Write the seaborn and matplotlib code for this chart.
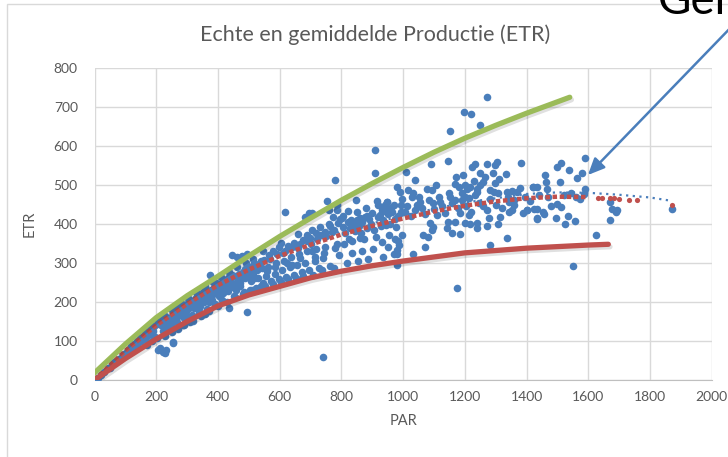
import numpy as np
import matplotlib
matplotlib.use("Agg")
import matplotlib.pyplot as plt
import matplotlib.patheffects as pe
from matplotlib.patches import Rectangle
import seaborn as sns

# gemeten punten (PAR, ETR) - band 0..1000
band = [
    (0, 0), (5, 3), (12, 6), (20, 12), (31, 20), (44, 30), (58, 40), (73, 50), (88, 60), (101, 70),
    (112, 72), (121, 80), (133, 88), (141, 95), (152, 100), (163, 105), (171, 112), (182, 118), (191, 125),
    (196, 110), (170, 90), (186, 100), (201, 108), (207, 77), (212, 158), (223, 73), (229, 70), (232, 77),
    (255, 96), (255, 98), (212, 81), (215, 140), (226, 145), (236, 150), (244, 128),
    (248, 140), (252, 160), (258, 175), (263, 186), (267, 150), (271, 165), (276, 181), (282, 195),
    (287, 140), (291, 160), (295, 176), (302, 190), (307, 206), (311, 150), (316, 166), (322, 185),
    (327, 200), (333, 216), (338, 175), (343, 190), (349, 210), (353, 226), (358, 170), (366, 182),
    (371, 200), (374, 269), (378, 215), (386, 236), (391, 195), (395, 250), (402, 215), (408, 235),
    (412, 205), (418, 222), (426, 240), (431, 261), (436, 185), (445, 250), (447, 270), (452, 215),
    (458, 230), (445, 320), (461, 316), (466, 255), (472, 240), (477, 318), (483, 225), (488, 285),
    (493, 175), (493, 323), (503, 232), (508, 255), (512, 275), (518, 300), (524, 236), (529, 261),
    (533, 287), (541, 306), (547, 250), (551, 242), (556, 266), (563, 291), (568, 311), (572, 255),
    (577, 246), (584, 272), (589, 300), (593, 322), (597, 260), (604, 251), (609, 281), (613, 306),
    (617, 331), (621, 265), (628, 258), (632, 291), (636, 316), (641, 340), (647, 270), (652, 262),
    (655, 296), (662, 322), (667, 350), (672, 277), (676, 266), (682, 301), (682, 417), (687, 330),
    (691, 356), (696, 282), (696, 427), (704, 429), (698, 365), (708, 270), (713, 306), (717, 336),
    (722, 361), (727, 288), (733, 372), (736, 281), (742, 312), (746, 341), (751, 370), (755, 460),
    (761, 436), (764, 292), (768, 380), (772, 417), (777, 287), (785, 449), (787, 436), (791, 321),
    (796, 412), (801, 415), (806, 420), (808, 350), (813, 376), (818, 301), (822, 433), (828, 390),
    (833, 326), (836, 356), (843, 382), (848, 462), (850, 432), (853, 306), (858, 395), (861, 415),
    (868, 332), (873, 361), (877, 419), (883, 391), (887, 311), (891, 412), (896, 400), (903, 336),
    (909, 590), (909, 532), (912, 366), (915, 460), (920, 449), (925, 423), (928, 396), (931, 355),
    (934, 316), (936, 410), (942, 444), (947, 457), (951, 341), (955, 371), (958, 401), (964, 430),
    (969, 322), (974, 361), (978, 392), (980, 333), (980, 323), (980, 295), (982, 357), (985, 421),
    (988, 347), (990, 481), (994, 430), (996, 372), (998, 463),
    (742, 60), (780, 513), (617, 432), (547, 330), (603, 352), (658, 375), (705, 385), (760, 400),
    (830, 410), (880, 440), (940, 433), (970, 450), (715, 316), (860, 365), (780, 338), (640, 295),
    (560, 280), (520, 262), (470, 250), (420, 228), (380, 205), (340, 185), (300, 165),
]

# extra punten in het dichte deel 50..1000
dense = [
    (50, 32), (62, 45), (80, 55), (95, 66), (108, 78), (118, 86), (128, 92), (138, 100), (148, 108),
    (158, 114), (166, 120), (176, 126), (184, 132), (194, 138), (204, 144), (214, 150), (222, 126),
    (231, 138), (240, 160), (247, 148), (256, 166), (262, 158), (270, 175), (278, 168), (285, 185),
    (292, 178), (299, 196), (305, 184), (313, 200), (319, 192), (326, 208), (331, 196), (339, 214),
    (346, 205), (351, 220), (356, 200), (362, 224), (368, 212), (376, 230), (383, 220), (389, 240),
    (397, 228), (404, 246), (410, 232), (416, 252), (423, 240), (429, 256), (434, 228), (441, 262),
    (449, 238), (455, 266), (463, 248), (469, 272), (475, 258), (481, 276), (487, 262), (496, 282),
    (501, 268), (507, 290), (514, 276), (521, 296), (527, 282), (536, 300), (543, 288), (549, 308),
    (230, 112), (250, 122), (270, 130), (290, 140), (318, 152), (345, 165), (372, 176), (400, 190),
    (428, 200), (455, 212), (482, 220), (510, 230), (538, 240),
    (160, 128), (180, 140), (205, 152), (228, 165), (252, 180), (277, 196), (303, 210), (330, 226),
    (357, 240), (385, 252), (410, 264), (437, 276), (463, 290), (490, 300), (515, 310),
    (565, 320), (580, 332), (598, 340), (612, 326), (626, 344), (645, 352), (660, 338), (675, 360),
    (690, 372), (702, 348), (718, 378), (732, 392), (748, 380), (762, 396), (776, 384), (790, 402),
    (805, 392), (820, 406), (838, 398), (852, 410), (866, 404), (884, 420), (898, 428), (918, 418),
    (932, 436), (950, 426), (962, 442), (975, 412), (992, 448),
    (585, 290), (625, 300), (665, 312), (705, 330), (745, 326), (785, 350), (825, 362), (865, 378),
    (905, 384), (945, 398),
]

# gemeten punten (PAR, ETR) - rechts, 1000..1900
right = [
    (1010, 534), (1039, 513), (1107, 500), (981, 496), (1077, 490), (1093, 487), (1169, 502),
    (1180, 496), (1260, 508), (1250, 500), (1298, 504), (1217, 496), (1206, 490), (1017, 487),
    (1033, 479), (1028, 470), (947, 457), (942, 449), (1055, 457), (1044, 449), (1098, 453),
    (1120, 457), (1152, 470), (1169, 462), (1190, 479), (1201, 470), (1212, 466), (1239, 483),
    (1233, 474), (1282, 487), (1293, 483), (1309, 479), (1336, 481), (1352, 485), (1369, 483),
    (1422, 496), (1433, 496), (1358, 462), (1342, 457), (1401, 436),
    (1233, 553), (1223, 547), (1271, 553), (1298, 551), (1304, 560), (1334, 527), (1250, 530),
    (1172, 521), (1195, 526), (1090, 553), (1144, 562), (1381, 556),
    (1273, 726), (1198, 688), (1219, 683), (1250, 654), (1152, 638),
    (1066, 372), (1082, 367), (1071, 342), (1033, 323), (1142, 389), (1158, 376), (1185, 374),
    (1147, 406), (1169, 406), (1212, 423), (1239, 402), (1239, 389), (1271, 436), (1277, 415),
    (1271, 395), (1314, 419), (1309, 400), (1336, 363), (1280, 346), (1342, 432), (1352, 436),
    (1390, 427), (1401, 436), (1433, 438), (1433, 415), (1201, 403), (1217, 400), (1185, 427),
    (1109, 423), (1098, 393), (1088, 402), (1093, 385), (1176, 235),
    (1005, 430), (1012, 445), (1025, 420), (1040, 435), (1050, 470), (1060, 440), (1070, 425),
    (1085, 462), (1100, 438), (1115, 470), (1125, 445), (1135, 428), (1150, 480), (1160, 455),
    (1178, 440), (1190, 462), (1205, 445), (1220, 430), (1245, 455), (1260, 445), (1280, 465),
    (1300, 450), (1320, 440), (1340, 470), (1360, 450), (1380, 492), (1395, 470), (1410, 458),
    (1440, 475), (1470, 470), (1480, 445), (1520, 475), (1545, 480), (1560, 470), (1585, 478),
    (1200, 500), (1230, 510), (1265, 520), (1290, 530), (1310, 515), (1240, 490),
    (1590, 568), (1511, 556), (1498, 545), (1536, 538), (1579, 530), (1563, 519), (1460, 526),
    (1463, 508), (1507, 508), (1420, 496), (1466, 491), (1588, 491), (1574, 464), (1669, 457),
    (1500, 451), (1511, 443), (1425, 438), (1453, 432), (1457, 426), (1676, 438), (1693, 436),
    (1690, 431), (1871, 438), (1533, 420), (1435, 413), (1495, 415), (1558, 408), (1525, 400),
    (1669, 410), (1552, 292), (1626, 372),
]

par_pts = [p for p, e in band + dense + right]
etr_pts = [e for p, e in band + dense + right]

# bovengrens (groen) en ondergrens (rood)
par_upper = [0, 100, 200, 300, 400, 500, 600, 700, 800, 900, 1000, 1100, 1200, 1300, 1400, 1540]
etr_upper = [18, 92, 160, 216, 266, 318, 368, 415, 461, 504, 545, 584, 620, 653, 684, 725]
par_lower = [0, 100, 200, 300, 400, 500, 600, 700, 800, 900, 1000, 1200, 1400, 1600, 1665]
etr_lower = [0, 55, 105, 150, 190, 218, 240, 262, 279, 293, 305, 326, 338, 346, 348]

# gemiddelde productie (rood gestippeld) en trendlijn (blauw gestippeld)
par_mean = [0, 100, 200, 300, 400, 500, 600, 700, 800, 900, 1000, 1100, 1200, 1300, 1400, 1500, 1600]
etr_mean = [0, 75, 140, 195, 243, 283, 318, 347, 373, 395, 414, 432, 447, 458, 466, 470, 469]
par_mean_dots = [1630, 1645, 1672, 1684, 1700, 1733, 1758, 1871]
etr_mean_dots = [467, 467, 466, 466, 465, 462, 461, 449]
par_trend = [0, 200, 400, 600, 800, 1000, 1200, 1400, 1500, 1600, 1700, 1800, 1865]
etr_trend = [0, 142, 247, 324, 381, 422, 455, 477, 481, 480, 475, 468, 460]

blue = "#4a7ebb"
red = "#c0504d"
green = "#9bbb59"
grey_txt = "#595959"

sns.set_style("white")
plt.rcParams['font.family'] = ['Lato', 'DejaVu Sans']

fig = plt.figure(figsize=(7.28, 4.57), dpi=100)
ax = fig.add_axes([94.5 / 728, 1 - 380 / 457, (711.7 - 94.5) / 728, (380 - 68) / 457])

sns.scatterplot(x=par_pts, y=etr_pts, ax=ax, color=blue, s=30, linewidth=0, zorder=3)
sns.lineplot(x=par_trend, y=etr_trend, ax=ax, color=blue, lw=1.6, linestyle=(0, (1, 2)),
             sort=False, zorder=4)
sns.lineplot(x=par_mean, y=etr_mean, ax=ax, color=red, lw=3.2, linestyle=(0, (1, 0.6)),
             sort=False, zorder=5)
sns.scatterplot(x=par_mean_dots, y=etr_mean_dots, ax=ax, color=red, s=14, linewidth=0, zorder=5)

shadow = [pe.SimpleLineShadow(offset=(1.2, -1.8), alpha=0.12), pe.Normal()]
sns.lineplot(x=par_upper, y=etr_upper, ax=ax, color=green, lw=3.8, sort=False, zorder=6,
             path_effects=shadow)
sns.lineplot(x=par_lower, y=etr_lower, ax=ax, color=red, lw=3.8, sort=False, zorder=6,
             path_effects=shadow)

ax.set_xlim(0, 2000)
ax.set_ylim(0, 800)
ax.set_xticks(range(0, 2001, 200))
ax.set_yticks(range(0, 801, 100))
ax.grid(True, color="#d9d9d9", lw=1)
ax.set_axisbelow(True)
for s in ["top", "right", "left"]:
    ax.spines[s].set_visible(False)
ax.spines["bottom"].set_color("#bfbfbf")
ax.tick_params(axis="both", length=0, labelsize=10, labelcolor=grey_txt)
ax.tick_params(axis="y", pad=12)
ax.tick_params(axis="x", pad=8)
ax.set_xlabel("PAR", fontsize=10.5, color=grey_txt, labelpad=8)
ax.set_ylabel("ETR", fontsize=10.5, color=grey_txt, labelpad=12)

fig.text(375 / 728, 1 - 35 / 457, "Echte en gemiddelde Productie (ETR)", ha="center", va="center",
         fontsize=15.5, color=grey_txt)

# kader van de grafiek
fig.patches.append(Rectangle((7 / 728, -0.1), 1.2, 1 - 3.5 / 457 + 0.1, transform=fig.transFigure,
                             fill=False, edgecolor="#d9d9d9", lw=1))

# tekst en pijl uit de presentatie
fig.text(658 / 728, 1 - 14 / 457, "Gemiddelde", ha="left", va="baseline", fontsize=33, color="black")
ax.annotate("", xy=(586 / 728, 1 - 177 / 457), xytext=(740 / 728, 1 - 18 / 457),
            xycoords="figure fraction", textcoords="figure fraction",
            arrowprops=dict(arrowstyle="-|>,head_length=1.0,head_width=0.45", color="#4a7ebb", lw=1.8),
            annotation_clip=False)

fig.savefig("out.png", dpi=100)
